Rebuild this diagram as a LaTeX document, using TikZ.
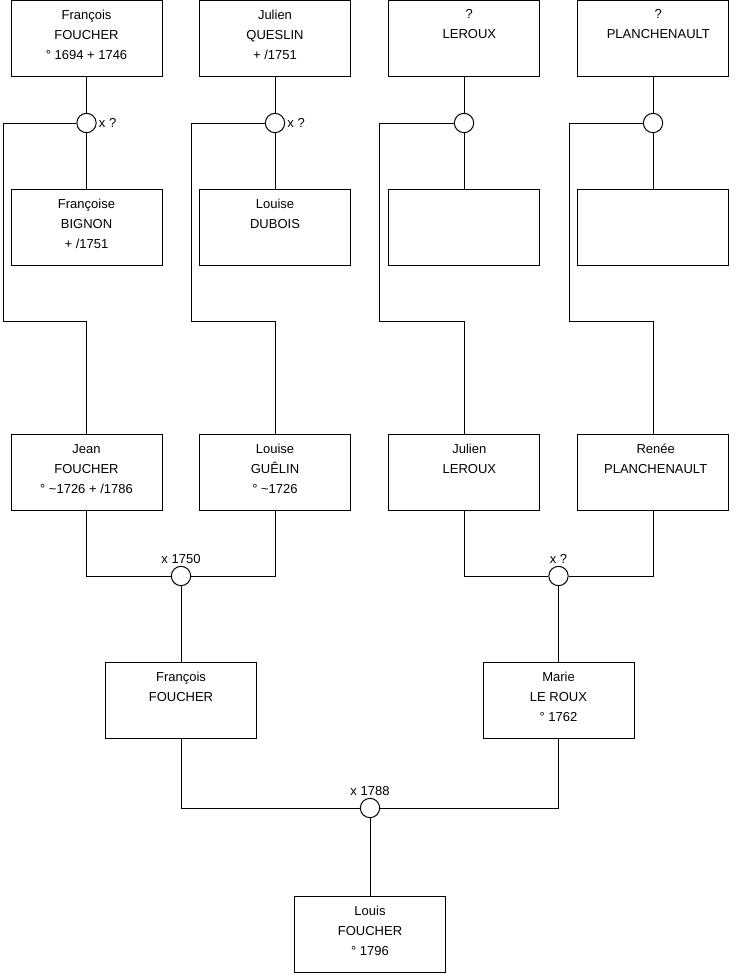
\documentclass[tikz,border=0pt]{standalone}
\usepackage{fontspec}
\setmainfont{Liberation Sans}
\begin{document}
\begin{tikzpicture}[x=0.75pt,y=-0.75pt,
  person/.style={draw=black,line width=0.75pt,fill=white,minimum width=113.25pt,minimum height=57pt,inner sep=0pt},
  txt/.style={anchor=north,align=center,inner sep=0pt,font=\fontsize{9.75}{15}\selectfont},
  wed/.style={draw=black,line width=0.75pt,fill=white,circle,minimum size=14.5pt,inner sep=0pt},
  lbl/.style={font=\fontsize{9.75}{12}\selectfont,inner sep=1.5pt},
  link/.style={draw=black,line width=0.75pt}]
\useasboundingbox (0,0) rectangle (740,975);
% row 1
\node[person] (a1) at (86.5,38) {};
\node[person] (a2) at (275,38) {};
\node[person] (a3) at (464,38) {};
\node[person] (a4) at (653,38) {};
\node[txt] (ta1) at ([yshift=-7.5pt]a1.north) {François\\FOUCHER\\° 1694 + 1746};
\node[txt] (ta2) at ([yshift=-7.5pt]a2.north) {Julien\\QUESLIN\\+ /1751};
\node[txt] (ta3) at ([yshift=-7.5pt,xshift=4pt]a3.north) {?\\LEROUX};
\node[txt] (ta4) at ([yshift=-7.5pt,xshift=4pt]a4.north) {?\\PLANCHENAULT};
% row 2
\node[person] (b1) at (86.5,227) {};
\node[person] (b2) at (275,227) {};
\node[person] (b3) at (464,227) {};
\node[person] (b4) at (653,227) {};
\node[txt] (tb1) at ([yshift=-7.5pt]b1.north) {Françoise\\BIGNON\\+ /1751};
\node[txt] (tb2) at ([yshift=-7.5pt]b2.north) {Louise\\DUBOIS};
% marriages row 1
\node[wed,label={[lbl]right:x ?}] (m1) at (86.5,123) {};
\node[wed,label={[lbl]right:x ?}] (m2) at (275,123) {};
\node[wed] (m3) at (464,123) {};
\node[wed] (m4) at (653,123) {};
% row 3
\node[person] (c1) at (86.5,472.5) {};
\node[person] (c2) at (275,472.5) {};
\node[person] (c3) at (464,472.5) {};
\node[person] (c4) at (653,472.5) {};
\node[txt] (tc1) at ([yshift=-7.5pt]c1.north) {Jean\\FOUCHER\\° \textasciitilde1726 + /1786};
\node[txt] (tc2) at ([yshift=-7.5pt]c2.north) {Louise\\GUÊLIN\\° \textasciitilde1726};
\node[txt] (tc3) at ([yshift=-7.5pt,xshift=4pt]c3.north) {Julien\\LEROUX};
\node[txt] (tc4) at ([yshift=-7.5pt,xshift=2pt]c4.north) {Renée\\PLANCHENAULT};
% marriages row 2
\node[wed,label={[lbl]above:x 1750}] (m5) at (181,576) {};
\node[wed,label={[lbl]above:x ?}] (m6) at (558.5,576) {};
% row 4
\node[person] (d1) at (181,700) {};
\node[person] (d2) at (558.5,700) {};
\node[txt] (td1) at ([yshift=-7.5pt]d1.north) {François\\FOUCHER};
\node[txt] (td2) at ([yshift=-7.5pt]d2.north) {Marie\\LE ROUX\\° 1762};
% marriage row 3
\node[wed,label={[lbl]above:x 1788}] (m7) at (370,808) {};
% row 5
\node[person] (e1) at (370,934.5) {};
\node[txt] (te1) at ([yshift=-7.5pt]e1.north) {Louis\\FOUCHER\\° 1796};
% bends
\coordinate (k1a) at (3,123);   \coordinate (k1b) at (3,321);
\coordinate (k2a) at (191,123); \coordinate (k2b) at (191,321);
\coordinate (k3a) at (379.5,123); \coordinate (k3b) at (379.5,321);
\coordinate (k4a) at (569.5,123); \coordinate (k4b) at (569.5,321);
% connectors
\foreach \i in {1,2,3,4}{
  \draw[link] (a\i.south) -- (m\i.north);
  \draw[link] (m\i.south) -- (b\i.north);
  \draw[link] (m\i.west) -- (k\i a) -- (k\i b) -| (c\i.north);
}
\draw[link] (c1.south) |- (m5.west);
\draw[link] (c2.south) |- (m5.east);
\draw[link] (m5.south) -- (d1.north);
\draw[link] (c3.south) |- (m6.west);
\draw[link] (c4.south) |- (m6.east);
\draw[link] (m6.south) -- (d2.north);
\draw[link] (d1.south) |- (m7.west);
\draw[link] (d2.south) |- (m7.east);
\draw[link] (m7.south) -- (e1.north);
\end{tikzpicture}
\end{document}
